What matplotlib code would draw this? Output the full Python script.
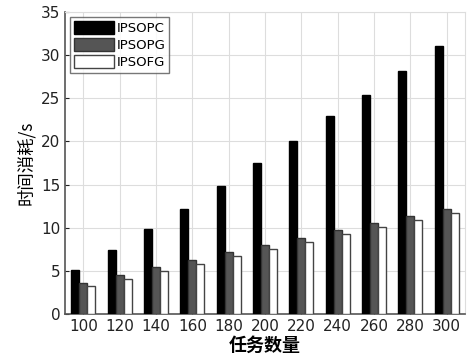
import numpy as np
import matplotlib
matplotlib.use("Agg")
import matplotlib.pyplot as plt
from matplotlib.patches import Patch

plt.rcParams['font.family'] = ['DejaVu Sans', 'Noto Sans CJK SC']

tasks = ['100', '120', '140', '160', '180', '200', '220', '240', '260', '280', '300']
ipsopc = [5.1, 7.45, 9.8, 12.2, 14.8, 17.5, 20.0, 22.9, 25.4, 28.2, 31.0]
ipsopg = [3.55, 4.5, 5.4, 6.25, 7.15, 8.0, 8.8, 9.7, 10.5, 11.35, 12.2]
ipsofg = [3.25, 4.1, 5.0, 5.8, 6.7, 7.5, 8.35, 9.25, 10.1, 10.9, 11.7]

series = [("IPSOPC", ipsopc, "black", "black"),
          ("IPSOPG", ipsopg, "#555555", "#333333"),
          ("IPSOFG", ipsofg, "white", "#444444")]

fig = plt.figure(figsize=(4.72, 3.61), dpi=100)
ax = fig.add_axes([0.138, 0.13, 0.847, 0.837])

x = np.arange(len(tasks))
w = 0.22
for i, (name, vals, fc, ec) in enumerate(series):
    ax.bar(x + (i - 1) * w, vals, width=w, color=fc, edgecolor=ec,
           linewidth=1.0, label=name, zorder=3)

ax.set_xlim(-0.5, 10.5)
ax.set_ylim(0, 35)
ax.set_xticks(x)
ax.set_xticklabels(tasks)
ax.set_yticks(np.arange(0, 36, 5))
ax.tick_params(direction='in', labelsize=11, colors='#222222', length=3)
ax.grid(True, color='#dddddd', linewidth=0.8, zorder=0)
for s in ['left', 'bottom']:
    ax.spines[s].set_color('#555555')
    ax.spines[s].set_linewidth(1.2)
for s in ['top', 'right']:
    ax.spines[s].set_color('#dddddd')

ax.set_xlabel('任务数量', family=['Noto Sans CJK SC'], fontsize=13,
              fontweight='bold', labelpad=1)
ax.set_ylabel('时间消耗/s', family=['Noto Sans CJK SC'], fontsize=12.5,
              fontweight='medium', labelpad=4)

handles = [Patch(facecolor=fc, edgecolor=ec, label=name) for name, _, fc, ec in series]
leg = ax.legend(handles=handles, loc='upper left', fontsize=9.5, frameon=True,
                fancybox=False, edgecolor='#555555', handlelength=3.0,
                handleheight=1.1, handletextpad=0.2, labelspacing=0.25,
                borderpad=0.3, borderaxespad=0.4)
leg.get_frame().set_linewidth(1.0)

fig.savefig('out.png', dpi=100)
